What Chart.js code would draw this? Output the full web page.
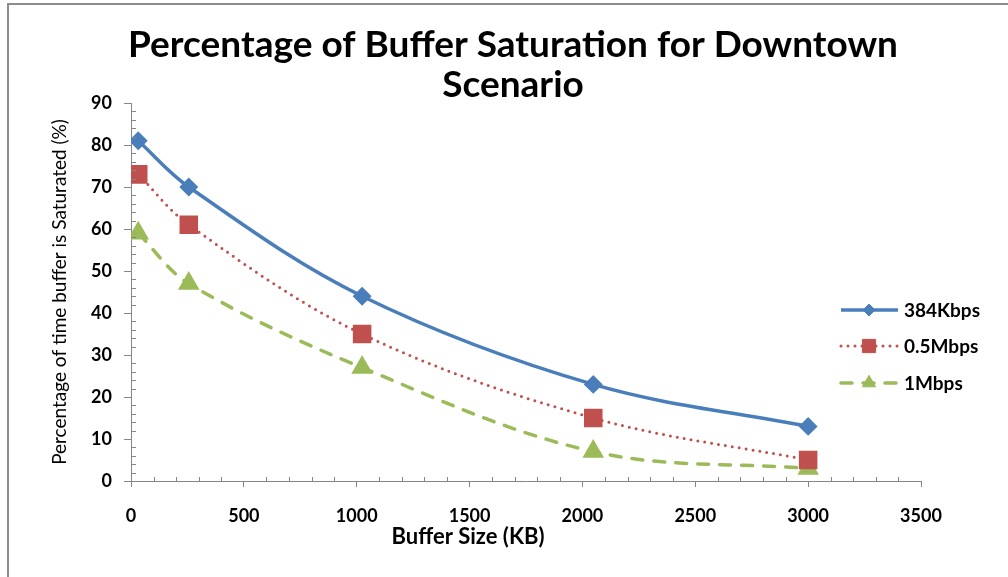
<!DOCTYPE html>
<html>
<head>
<meta charset="utf-8">
<script src="https://cdn.jsdelivr.net/npm/chart.js@4/dist/chart.umd.min.js"></script>
<style>
  html, body { margin: 0; padding: 0; background: #fff; }
  #wrap { width: 1008px; height: 577px; position: relative; }
</style>
</head>
<body>
<div id="wrap"><canvas id="myChart"></canvas></div>
<script>
// Data
var bufferSizes = [32, 256, 1024, 2048, 3000];
var kbps384 = [81, 70, 44, 23, 13];
var mbps05 = [73, 61, 35, 15, 5];
var mbps1 = [59, 47, 27, 7, 3];
var seriesNames = ["384Kbps", "0.5Mbps", "1Mbps"];
var xTicks = [0, 500, 1000, 1500, 2000, 2500, 3000, 3500];
var yTicks = [0, 10, 20, 30, 40, 50, 60, 70, 80, 90];
var titleLines = ["Percentage of Buffer Saturation for Downtown", "Scenario"];
var xTitle = "Buffer Size (KB)";

var FONT = "Lato, 'Open Sans', 'DejaVu Sans', sans-serif";
var AXIS_COLOR = '#868686';

function toPoints(xs, ys) {
  return xs.map(function (x, i) { return { x: x, y: ys[i] }; });
}

// frame, titles, minor ticks and the legend
var decorPlugin = {
  id: 'decor',
  beforeDraw: function (chart) {
    var c = chart.ctx;
    c.save();
    c.strokeStyle = '#8c8c8c';
    c.lineWidth = 2;
    c.beginPath();
    c.moveTo(8, 577);
    c.lineTo(8, 4);
    c.lineTo(1008, 4);
    c.stroke();
    c.restore();
  },
  afterDraw: function (chart) {
    var c = chart.ctx;
    var xs = chart.scales.x, ys = chart.scales.y;
    var area = chart.chartArea;
    c.save();

    // titles
    c.fillStyle = '#000';
    c.font = "bold 37px " + FONT;
    c.textAlign = 'center';
    c.textBaseline = 'middle';
    c.fillText(titleLines[0], 513, 45);
    c.fillText(titleLines[1], 513, 85);
    c.font = "bold 22px " + FONT;
    c.fillText(xTitle, 468, 537);

    // minor ticks
    c.strokeStyle = AXIS_COLOR;
    c.lineWidth = 1;
    c.beginPath();
    for (var v = 0; v <= 3500; v += 100) {
      if (v % 500 === 0) continue;
      var px = Math.round(xs.getPixelForValue(v)) + 0.5;
      c.moveTo(px, area.bottom);
      c.lineTo(px, area.bottom - 4);
    }
    for (var w = 0; w <= 90; w += 2) {
      if (w % 10 === 0) continue;
      var py = Math.round(ys.getPixelForValue(w)) + 0.5;
      c.moveTo(area.left, py);
      c.lineTo(area.left + 5, py);
    }
    c.stroke();

    // legend
    var rows = [310, 346, 383];
    chart.data.datasets.forEach(function (ds, i) {
      var y = rows[i];
      c.save();
      c.strokeStyle = ds.borderColor;
      c.lineWidth = ds.borderWidth;
      c.lineCap = ds.borderCapStyle || 'butt';
      c.setLineDash(ds.borderDash || []);
      c.beginPath();
      c.moveTo(841, y);
      c.lineTo(898, y);
      c.stroke();
      c.restore();
      c.fillStyle = ds.pointBackgroundColor;
      c.strokeStyle = ds.pointBackgroundColor;
      Chart.helpers.drawPoint(c, {
        pointStyle: ds.pointStyle,
        radius: ds.pointRadius * 0.85,
        borderWidth: 1,
        rotation: 0
      }, 869, y);
      c.fillStyle = '#000';
      c.font = "bold 19px " + FONT;
      c.textBaseline = 'middle';
      c.textAlign = 'left';
      c.fillText(ds.label, 904, y + 1);
    });
    c.restore();
  }
};

var data = {
  datasets: [
    {
      label: seriesNames[0],
      data: toPoints(bufferSizes, kbps384),
      borderColor: 'rgb(74,126,187)',
      backgroundColor: 'rgb(74,126,187)',
      pointBackgroundColor: 'rgb(74,126,187)',
      pointBorderColor: 'rgb(74,126,187)',
      borderWidth: 3.5,
      pointStyle: 'rectRot',
      pointRadius: 7,
      tension: 0.35
    },
    {
      label: seriesNames[1],
      data: toPoints(bufferSizes, mbps05),
      borderColor: 'rgb(192,80,77)',
      backgroundColor: 'rgb(192,80,77)',
      pointBackgroundColor: 'rgb(192,80,77)',
      pointBorderColor: 'rgb(192,80,77)',
      borderWidth: 3,
      borderDash: [0, 7],
      borderCapStyle: 'round',
      pointStyle: 'rect',
      pointRadius: 11,
      tension: 0.35
    },
    {
      label: seriesNames[2],
      data: toPoints(bufferSizes, mbps1),
      borderColor: 'rgb(155,187,89)',
      backgroundColor: 'rgb(155,187,89)',
      pointBackgroundColor: 'rgb(155,187,89)',
      pointBorderColor: 'rgb(155,187,89)',
      borderWidth: 3.5,
      borderDash: [11, 11],
      borderCapStyle: 'round',
      pointStyle: 'triangle',
      pointRadius: 9,
      tension: 0.35
    }
  ]
};

var options = {
  responsive: true,
  maintainAspectRatio: false,
  animation: false,
  layout: { padding: { left: 10, right: 87, top: 103, bottom: 4 } },
  plugins: {
    legend: { display: false },
    tooltip: { enabled: false },
    title: { display: false }
  },
  scales: {
    x: {
      type: 'linear',
      min: 0,
      max: 3500,
      afterBuildTicks: function (s) { s.ticks = xTicks.map(function (v) { return { value: v }; }); },
      border: { color: AXIS_COLOR, width: 1 },
      grid: { drawOnChartArea: false, color: AXIS_COLOR, tickLength: 6 },
      ticks: {
        color: '#000',
        font: { family: FONT, size: 18, weight: 'bold' },
        padding: 18,
        maxRotation: 0,
        callback: function (v) { return String(v); }
      },
      title: { display: false },
      afterFit: function (s) { s.height = 577 - 481 - 4; }
    },
    y: {
      min: 0,
      max: 90,
      afterBuildTicks: function (s) { s.ticks = yTicks.map(function (v) { return { value: v }; }); },
      border: { color: AXIS_COLOR, width: 1 },
      grid: { drawOnChartArea: false, color: AXIS_COLOR, tickLength: 7 },
      ticks: {
        color: '#000',
        font: { family: FONT, size: 18, weight: 'bold' },
        padding: 12,
        callback: function (v) { return String(v); }
      },
      title: { display: true, text: 'Percentage of time buffer is Saturated (%)', color: '#000', font: { family: FONT, size: 19, weight: 'normal' }, padding: { top: 38, bottom: 0 } },
      afterFit: function (s) { s.width = 131 - 10; }
    }
  }
};

var ctx = document.getElementById('myChart').getContext('2d');
var myChart = new Chart(ctx, {
  type: 'line',
  data: data,
  options: options,
  plugins: [decorPlugin]
});
</script>
</body>
</html>
